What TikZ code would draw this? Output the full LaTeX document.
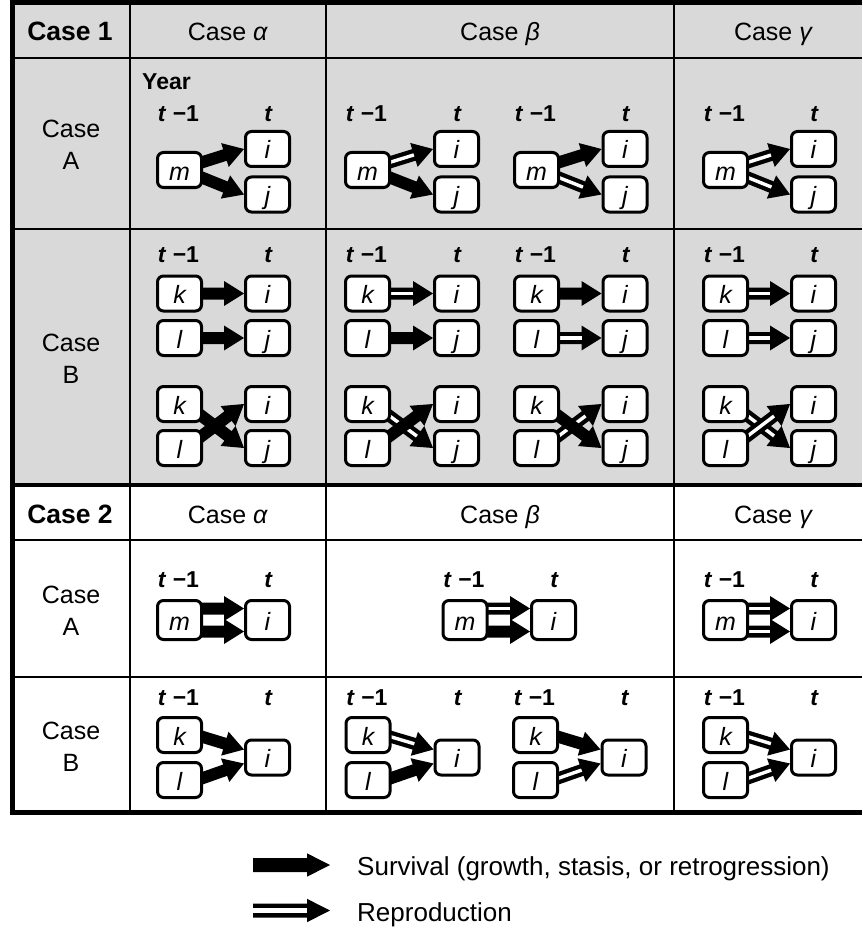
\documentclass[tikz,border=0pt]{standalone}
\usepackage{fontspec}
\setmainfont{Liberation Sans}
\usetikzlibrary{calc}
\definecolor{cgray}{RGB}{217,217,217}
\pgfdeclarelayer{bg}
\pgfdeclarelayer{arr}
\pgfsetlayers{bg,arr,main}
% block arrow: #1 start, #2 end, #3 half shaft, #4 half head, #5 head length, #6 backward extension
\newcommand{\arrowbody}[6]{%
  \coordinate (aSo) at (#1);
  \coordinate (aE) at (#2);
  \coordinate (aS) at ($(aSo)!-#6!(aE)$);
  \coordinate (aH) at ($(aE)!#5!(aSo)$);
  \fill[black] ($(aS)!#3!90:(aE)$) -- ($(aH)!#3!90:(aE)$) -- ($(aH)!#4!90:(aE)$) -- (aE)
     -- ($(aH)!#4!-90:(aE)$) -- ($(aH)!#3!-90:(aE)$) -- ($(aS)!#3!-90:(aE)$) -- cycle;
}
\newcommand{\arrowgap}[1]{%
  \fill[white] ($(aS)!#1!90:(aE)$) -- ($(aH)!#1!90:(aE)$) -- ($(aH)!#1!-90:(aE)$) -- ($(aS)!#1!-90:(aE)$) -- cycle;
}
\newcommand{\Sarr}[2]{\arrowbody{#1}{#2}{6pt}{12.5pt}{20pt}{6pt}}
\newcommand{\Rarr}[2]{\arrowbody{#1}{#2}{6pt}{12.5pt}{20pt}{6pt}\arrowgap{1.7pt}}
\begin{document}
\begin{tikzpicture}[x=1pt,y=-1pt,
  bx/.style={draw, line width=3pt, rounded corners=6pt, fill=white, minimum width=44pt, minimum height=35pt, inner sep=0pt, text height=20pt, text depth=0pt, font=\fontsize{25}{30}\selectfont\itshape},
  bxt/.style={bx, minimum height=39pt},
  tl/.style={font=\fontsize{23}{26}\selectfont\bfseries, anchor=base, inner sep=0pt},
  hd/.style={font=\fontsize{25}{32}\selectfont, anchor=base, inner sep=0pt},
  hdb/.style={hd, font=\fontsize{26.5}{32}\selectfont\bfseries},
  rl/.style={font=\fontsize{25}{32}\selectfont, align=center, inner sep=0pt},
  lg/.style={font=\fontsize{26}{32}\selectfont, anchor=base west, inner sep=0pt},
  thinl/.style={line width=2pt},
  thickl/.style={line width=5pt, line join=miter}]
\useasboundingbox (0,0) rectangle (862,928);
\begin{pgfonlayer}{bg}
  \fill[cgray] (12.5,2.5) rectangle (862,485);
  \draw[thinl] (12.5,58) -- (862,58);
  \draw[thinl] (12.5,229) -- (862,229);
  \draw[thinl] (12.5,540) -- (862,540);
  \draw[thinl] (12.5,677) -- (862,677);
  \draw[thinl] (130,2.5) -- (130,812.5);
  \draw[thinl] (326,2.5) -- (326,812.5);
  \draw[thinl] (674,2.5) -- (674,812.5);
  \draw[line width=4pt] (12.5,485.3) -- (862,485.3);
  \draw[thickl] (862,2.5) -- (12.5,2.5) -- (12.5,812.5) -- (862,812.5);
\end{pgfonlayer}
% headers
\node[hdb] (h1) at (70,40.7) {Case 1};
\node[hd] (h1a) at (228,40.7) {Case \textit{α}};
\node[hd] (h1b) at (500,40.7) {Case \textit{β}};
\node[hd] (h1g) at (773.5,40.7) {Case \textit{γ}};
\node[hdb] (h2) at (70,523.3) {Case 2};
\node[hd] (h2a) at (228,523.3) {Case \textit{α}};
\node[hd] (h2b) at (500,523.3) {Case \textit{β}};
\node[hd] (h2g) at (773.5,523.3) {Case \textit{γ}};
\node[rl] (r1A) at (71,144.5) {Case\\A};
\node[rl] (r1B) at (71,358.3) {Case\\B};
\node[rl] (r2A) at (71,610.8) {Case\\A};
\node[rl] (r2B) at (71,746.7) {Case\\B};
\node[tl, anchor=base west] (year) at (142,89.3) {Year};
% Case 1 A
\foreach \cc/\xa/\xb in {a/179.5/267.5, b/367.5/456.5, c/536.5/625, g/725.5/813.5}{
  \node[bx] (uA\cc m) at (\xa,170) {m};
  \node[bx] (uA\cc i) at (\xb,149) {i};
  \node[bx] (uA\cc j) at (\xb,194.5) {j};
  \node[tl] (uA\cc p) at (\xa-1,121.7) {\textit{t} −1};
  \node[tl] (uA\cc q) at (\xb+1,121.7) {\textit{t}};
}
% Case 1 B
\foreach \cc/\xa/\xb in {a/179.5/267.5, b/367.5/456.5, c/536.5/625, g/725.5/813.5}{
  \node[bx] (uB\cc k) at (\xa,293.5) {k};
  \node[bx] (uB\cc l) at (\xa,338) {l};
  \node[bx] (uB\cc i) at (\xb,293.5) {i};
  \node[bx] (uB\cc j) at (\xb,338) {j};
  \node[bx] (uB\cc K) at (\xa,404) {k};
  \node[bx] (uB\cc L) at (\xa,448) {l};
  \node[bx] (uB\cc I) at (\xb,404) {i};
  \node[bx] (uB\cc J) at (\xb,448) {j};
  \node[tl] (uB\cc p) at (\xa-1,262.7) {\textit{t} −1};
  \node[tl] (uB\cc q) at (\xb+1,262.7) {\textit{t}};
}
% Case 2 A
\foreach \cc/\xa/\xb in {a/179.5/267.5, b/465/553.5, g/725.5/813.5}{
  \node[bxt] (vA\cc m) at (\xa,620) {m};
  \node[bxt] (vA\cc i) at (\xb,620) {i};
  \node[tl] (vA\cc p) at (\xa-1,587.7) {\textit{t} −1};
  \node[tl] (vA\cc q) at (\xb+1,587.7) {\textit{t}};
}
% Case 2 B
\foreach \cc/\xa/\xb in {a/179.5/267.5, b/368/457, c/535.5/624, g/725.5/813.5}{
  \node[bx] (vB\cc k) at (\xa,735) {k};
  \node[bx] (vB\cc l) at (\xa,780) {l};
  \node[bx] (vB\cc i) at (\xb,757.5) {i};
  \node[tl] (vB\cc p) at (\xa-1,705) {\textit{t} −1};
  \node[tl] (vB\cc q) at (\xb+1,705) {\textit{t}};
}
% legend
\coordinate (ls1) at (253,865);
\coordinate (ls2) at (330,865);
\coordinate (lr1) at (253,910.5);
\coordinate (lr2) at (330,910.5);
\node[lg] (lgs) at (357,875) {Survival (growth, stasis, or retrogression)};
\node[lg] (lgr) at (357,921) {Reproduction};
\begin{pgfonlayer}{arr}
  % Case 1 A
  \Sarr{$(uAam.east)+(0,-8)$}{uAai.west}
  \Sarr{$(uAam.east)+(0,8)$}{uAaj.west}
  \Rarr{$(uAbm.east)+(0,-8)$}{uAbi.west}
  \Sarr{$(uAbm.east)+(0,8)$}{uAbj.west}
  \Sarr{$(uAcm.east)+(0,-8)$}{uAci.west}
  \Rarr{$(uAcm.east)+(0,8)$}{uAcj.west}
  \Rarr{$(uAgm.east)+(0,-8)$}{uAgi.west}
  \Rarr{$(uAgm.east)+(0,8)$}{uAgj.west}
  % Case 1 B, parallel
  \Sarr{uBak.east}{uBai.west}
  \Sarr{uBal.east}{uBaj.west}
  \Rarr{uBbk.east}{uBbi.west}
  \Sarr{uBbl.east}{uBbj.west}
  \Sarr{uBck.east}{uBci.west}
  \Rarr{uBcl.east}{uBcj.west}
  \Rarr{uBgk.east}{uBgi.west}
  \Rarr{uBgl.east}{uBgj.west}
  % Case 1 B, crossing
  \Sarr{$(uBaK.east)+(0,13)$}{uBaJ.west}
  \Sarr{$(uBaL.east)+(0,-13)$}{uBaI.west}
  \Rarr{$(uBbK.east)+(0,13)$}{uBbJ.west}
  \Sarr{$(uBbL.east)+(0,-13)$}{uBbI.west}
  \Rarr{$(uBcL.east)+(0,-13)$}{uBcI.west}
  \Sarr{$(uBcK.east)+(0,13)$}{uBcJ.west}
  \Rarr{$(uBgK.east)+(0,13)$}{uBgJ.west}
  \Rarr{$(uBgL.east)+(0,-13)$}{uBgI.west}
  % Case 2 A
  \Sarr{$(vAam.east)+(0,-11.5)$}{$(vAai.west)+(0,-11.5)$}
  \Sarr{$(vAam.east)+(0,11.5)$}{$(vAai.west)+(0,11.5)$}
  \Rarr{$(vAbm.east)+(0,-11.5)$}{$(vAbi.west)+(0,-11.5)$}
  \Sarr{$(vAbm.east)+(0,11.5)$}{$(vAbi.west)+(0,11.5)$}
  \Rarr{$(vAgm.east)+(0,-11.5)$}{$(vAgi.west)+(0,-11.5)$}
  \Rarr{$(vAgm.east)+(0,11.5)$}{$(vAgi.west)+(0,11.5)$}
  % Case 2 B
  \Sarr{$(vBak.east)+(0,2)$}{$(vBai.west)+(0,-8)$}
  \Sarr{$(vBal.east)+(0,-2)$}{$(vBai.west)+(0,6)$}
  \Rarr{$(vBbk.east)+(0,2)$}{$(vBbi.west)+(0,-8)$}
  \Sarr{$(vBbl.east)+(0,-2)$}{$(vBbi.west)+(0,6)$}
  \Sarr{$(vBck.east)+(0,2)$}{$(vBci.west)+(0,-8)$}
  \Rarr{$(vBcl.east)+(0,-2)$}{$(vBci.west)+(0,6)$}
  \Rarr{$(vBgk.east)+(0,2)$}{$(vBgi.west)+(0,-8)$}
  \Rarr{$(vBgl.east)+(0,-2)$}{$(vBgi.west)+(0,6)$}
  % legend
  \arrowbody{ls1}{ls2}{7pt}{11.7pt}{23pt}{0pt}
  \arrowbody{lr1}{lr2}{7pt}{11.7pt}{23pt}{0pt}\arrowgap{2.2pt}
\end{pgfonlayer}
\end{tikzpicture}
\end{document}
